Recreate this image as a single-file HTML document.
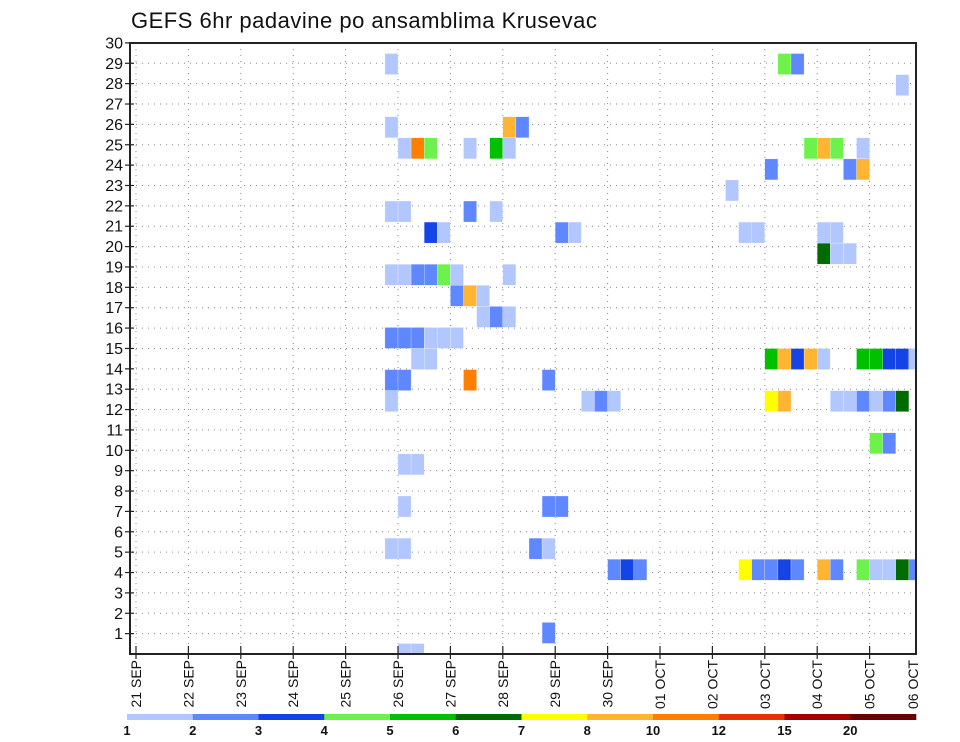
<!DOCTYPE html>
<html><head><meta charset="utf-8"><style>
html,body{margin:0;padding:0;background:#fff;}
svg{display:block;font-family:"Liberation Sans","DejaVu Sans",sans-serif;}
</style></head><body>
<svg id="chart" width="960" height="742" viewBox="0 0 960 742" xmlns="http://www.w3.org/2000/svg">
<text x="131" y="28" font-size="22" fill="#111" letter-spacing="0.5">GEFS 6hr padavine po ansamblima Krusevac</text>
<g id="grid"></g>
<g id="cells"></g>
<rect x="130" y="43" width="786" height="611" fill="none" stroke="#222" stroke-width="2"/>
<g id="axes"></g>
<g id="legend"></g>
</svg>
<script>
// data
const dayLabels = ["21 SEP","22 SEP","23 SEP","24 SEP","25 SEP","26 SEP","27 SEP","28 SEP","29 SEP","30 SEP","01 OCT","02 OCT","03 OCT","04 OCT","05 OCT","06 OCT"];
const yTicks = [1,2,3,4,5,6,7,8,9,10,11,12,13,14,15,16,17,18,19,20,21,22,23,24,25,26,27,28,29,30];
const legendLabels = ["1","2","3","4","5","6","7","8","10","12","15","20"];
const legendColors = ["#b3c7ff","#5f87ff","#1443e6","#6cf24a","#00c000","#006b00","#ffff00","#ffb432","#ff8000","#e83200","#a50000","#6b0000"];
// cells: 6-hour step index, ensemble member, colour level index
const cellT = [19, 19,28,29, 20,21,22,25,27,28, 19,20,25,27, 22,23,32,33, 19,20,21,22,23,24,28, 24,25,26, 26,27,28, 19,20,21,22,23,24, 21,22, 19,20,25,31, 19,34,35,36, 20,21, 20,31,32, 19,20,30,31, 36,37,38, 31, 20,21,
 49,50, 58, 51,52,53,55, 48,54,55, 45, 46,47,52,53, 52,53,54, 48,49,50,51,52,55,56,57,58,59, 48,49,53,54,55,56,57,58, 56,57, 46,47,48,49,50,52,53,55,56,57,58,59];
const cellV = [29, 26,26,26, 25,25,25,25,25,25, 22,22,22,22, 21,21,21,21, 19,19,19,19,19,19,19, 18,18,18, 17,17,17, 16,16,16,16,16,16, 15,15, 14,14,14,14, 13,13,13,13, 10,10, 8,8,8, 6,6,6,6, 5,5,5, 2, 1,1,
 29,29, 28, 25,25,25,25, 24,24,24, 23, 21,21,21,21, 20,20,20, 15,15,15,15,15,15,15,15,15,15, 13,13,13,13,13,13,13,13, 11,11, 5,5,5,5,5,5,5,5,5,5,5,5];
const cellL = [0, 0,7,1, 0,8,3,0,4,0, 0,0,1,0, 2,0,1,0, 0,0,1,1,3,0,0, 1,7,0, 0,1,0, 1,1,1,0,0,0, 0,0, 1,1,8,1, 0,0,1,0, 0,0, 0,1,1, 0,0,1,0, 1,2,1, 1, 0,0,
 3,1, 0, 3,7,3,0, 1,1,7, 0, 0,0,0,0, 5,0,0, 4,7,2,7,0,4,4,2,2,0, 6,7,0,0,1,0,1,5, 3,1, 6,1,1,2,1,7,1,3,0,0,5,1];

const NS="http://www.w3.org/2000/svg";
const L=130,R=916,T=43,B=654;
function xDay(d){return 136+52.4*d;}
function xStep(i){return 136+13.1*i;}
function yLab(v){return B-(v)*20.37;}
function yCell(v){return B-(v-1)*21.07;}
function mk(tag,attrs,parent){const e=document.createElementNS(NS,tag);for(const k in attrs)e.setAttribute(k,attrs[k]);parent.appendChild(e);return e;}

const grid=document.getElementById('grid');
yTicks.forEach(v=>{
  if(v===30)return;
  const l=mk('line',{x1:L,x2:R,y1:yLab(v),y2:yLab(v),stroke:'#888','stroke-width':1,'stroke-dasharray':'1 5'},grid);
  
  
});
dayLabels.forEach((s,d)=>{
  const x=xDay(d); if(x>R-2)return;
  const l=mk('line',{x1:x,x2:x,y1:T,y2:B,stroke:'#888','stroke-width':1,'stroke-dasharray':'1 5'},grid);
  
  
});

const cg=document.getElementById('cells');
for(let k=0;k<cellT.length;k++){
  const x=xStep(cellT[k]);
  const w=Math.min(13.1,R-x);
  let y0=yCell(cellV[k])-10.5, y1=yCell(cellV[k])+10.5;
  y0=Math.max(y0,T); y1=Math.min(y1,B);
  const r=mk('rect',{x:x,y:y0,width:w,height:y1-y0,fill:legendColors[cellL[k]],stroke:'#fff','stroke-width':0.4,'stroke-opacity':0.6},cg);
  
  
}

const ax=document.getElementById('axes');
yTicks.forEach(v=>{
  const y=yLab(v);
  const t=mk('line',{x1:125,x2:134,y1:y,y2:y,stroke:'#222','stroke-width':1.2},ax);
  
  
  const tx=mk('text',{x:123,y:y+5.5,'font-size':16,'text-anchor':'end',fill:'#111'},ax);
  tx.textContent=v;
  
  
});
dayLabels.forEach((s,d)=>{
  const x=Math.min(xDay(d),913);
  if(xDay(d)<R-2){
    const t=mk('line',{x1:x,x2:x,y1:B-8,y2:B+5,stroke:'#222','stroke-width':1.2},ax);
    
    
  }
  const tx=mk('text',{x:0,y:0,'font-size':14,'text-anchor':'end',fill:'#111',transform:`translate(${x+5},660) rotate(-90)`},ax);
  tx.textContent=s;
  
  
});

const lg=document.getElementById('legend');
const segW=(916-127)/legendColors.length;
legendColors.forEach((c,i)=>{
  const r=mk('rect',{x:127+i*segW,y:714,width:segW+0.3,height:6,fill:c},lg);
  
  
  const t=mk('text',{x:127+i*segW,y:735,'font-size':13,'font-weight':'bold','text-anchor':'middle',fill:'#111'},lg);
  t.textContent=legendLabels[i];
  
  
});
</script>
</body></html>
